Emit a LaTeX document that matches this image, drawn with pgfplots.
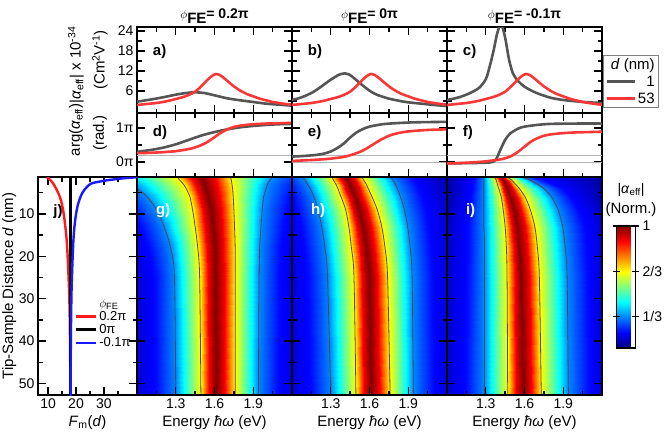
\documentclass[border=0pt]{standalone}
\usepackage{pgfplots}
\pgfplotsset{compat=1.18}
\usepackage{fontspec}
\setmainfont{Liberation Sans}
\definecolor{cgray}{RGB}{85,85,85}
\definecolor{cred}{RGB}{250,55,55}
\definecolor{jred}{RGB}{255,25,25}
\definecolor{jblue}{RGB}{25,25,255}
\definecolor{cont}{RGB}{75,75,75}
\newcommand{\fs}[1]{\fontsize{#1}{#1}\selectfont}
\newcommand{\phititle}[1]{{\fs{13}$\phi$}\raisebox{-5pt}{\bfseries\fs{15}FE}{\bfseries\fs{14}= #1}}
\pgfplotsset{
 base/.style={scale only axis, anchor=south west, xmin=1, xmax=2.2,
   axis line style={line width=1.3pt}, every tick/.append style={black, line width=1.3pt},
   major tick length=8pt, minor tick length=4.5pt, tick align=inside,
   xtick={1.3,1.6,1.9}, minor xtick={1.15,1.45,1.75,2.05}, xticklabels={},
   ticklabel style={font=\fs{14}}, /pgf/number format/assume math mode=true},
 amp/.style={base, width=155pt, height=86pt, ymin=-0.6, ymax=25.2, ytick={6,12,18,24}, minor ytick={3,9,15,21}, yticklabels={}},
 phs/.style={base, width=155pt, height=64pt, ymin=-0.44, ymax=1.44, ytick={0,1}, minor ytick={0.5}, yticklabels={}},
 heat/.style={base, width=155pt, height=218pt, view={0}{90}, ymin=1.3, ymax=52.7, y dir=reverse,
   ytick={10,20,30,40,50}, minor ytick={5,15,25,35,45}, yticklabels={}, xticklabels={1.3,1.6,1.9},
   xtick pos=left, zmin=0, zmax=2, ztick=\empty, colormap/jet, point meta min=0.1, point meta max=1,
   axis on top, xlabel={Energy \textit{ħω} (eV)}, label style={font=\fs{15}}},
 cg/.style={cgray, line width=2.6pt, smooth},
 cr/.style={cred, line width=2.6pt, smooth},
 ct/.style={cont, line width=0.8pt, smooth},
 hl/.style={gray!60, line width=0.7pt},
}
\begin{document}
\begin{tikzpicture}
\useasboundingbox (0,0) rectangle (666pt,432pt);

% ---------- titles ----------
\node at (214.5pt,416pt) {\phititle{0.2π}};
\node at (369.5pt,416pt) {\phititle{0π}};
\node at (524.5pt,416pt) {\phititle{-0.1π}};

\node[rotate=90, font=\fs{15}] at (76pt,367pt) {|\textit{α}\textsubscript{eff}| x 10\textsuperscript{-34}};
\node[rotate=90, font=\fs{15}] at (100pt,372pt) {(Cm\textsuperscript{2}V\textsuperscript{-1})};
\node[rotate=90, font=\fs{15}] at (76pt,302pt) {arg(\textit{α}\textsubscript{eff})};
\node[rotate=90, font=\fs{15}] at (100pt,299pt) {(rad.)};
\node[font=\fs{14}] at (631pt,242pt) {|\textit{α}\textsubscript{eff}|};
\node[font=\fs{15}] at (631pt,222pt) {(Norm.)};

% ---------- a ----------
\begin{axis}[amp, at={(137pt,319pt)}, yticklabels={6,12,18,24}]
\addplot[cg] coordinates {(1.00,2.8) (1.10,3.4) (1.20,4.1) (1.30,4.9) (1.38,5.4) (1.45,5.6) (1.52,5.4) (1.60,4.7) (1.70,3.8) (1.80,3.2) (1.90,2.7) (2.00,2.2) (2.10,1.9) (2.20,1.6)};
\addplot[cr] coordinates {(1.00,1.8) (1.05,2.0) (1.10,2.2) (1.15,2.4) (1.20,2.7) (1.25,3.1) (1.30,3.6) (1.35,4.1) (1.40,4.8) (1.45,5.8) (1.50,7.5) (1.55,9.5) (1.58,10.5) (1.61,11.1) (1.64,10.8) (1.67,10.0) (1.70,9.0) (1.75,7.4) (1.80,6.1) (1.85,5.1) (1.90,4.4) (1.95,3.7) (2.00,3.2) (2.05,2.7) (2.10,2.4) (2.15,2.1) (2.20,1.9)};
\node[font=\bfseries\fs{15}, anchor=west] at (axis description cs:0.08,0.71) {a)};
\end{axis}
% ---------- b ----------
\begin{axis}[amp, at={(292pt,319pt)}]
\addplot[cg] coordinates {(1.00,3.3) (1.05,3.8) (1.10,4.5) (1.15,5.4) (1.20,6.6) (1.25,8.0) (1.30,9.4) (1.35,10.6) (1.38,11.1) (1.41,11.3) (1.44,11.0) (1.47,10.2) (1.50,9.2) (1.55,7.6) (1.60,6.1) (1.65,5.0) (1.70,4.3) (1.75,3.7) (1.80,3.3) (1.85,2.9) (1.90,2.6) (2.00,2.2) (2.10,1.8) (2.20,1.5)};
\addplot[cr] coordinates {(1.00,1.8) (1.05,2.0) (1.10,2.2) (1.15,2.4) (1.20,2.7) (1.25,3.1) (1.30,3.6) (1.35,4.1) (1.40,4.8) (1.45,5.8) (1.50,7.5) (1.55,9.5) (1.58,10.5) (1.61,11.1) (1.64,10.8) (1.67,10.0) (1.70,9.0) (1.75,7.4) (1.80,6.1) (1.85,5.1) (1.90,4.4) (1.95,3.7) (2.00,3.2) (2.05,2.7) (2.10,2.4) (2.15,2.1) (2.20,1.9)};
\node[font=\bfseries\fs{15}, anchor=west] at (axis description cs:0.08,0.71) {b)};
\end{axis}
% ---------- c ----------
\begin{axis}[amp, at={(447pt,319pt)},
  legend style={at={(1.006,0.674)}, anchor=north west, draw=gray, line width=0.8pt, fill=white,
    font=\fs{15}, inner xsep=2pt, inner ysep=1pt, row sep=1pt},
  legend cell align=right,
  legend image code/.code={\draw[#1] (0pt,0pt) -- (28pt,0pt);}]
\addlegendimage{empty legend}\addlegendentry{\hspace{-34pt}\textit{d} (nm)}
\addplot[cg] coordinates {(1.00,3.3) (1.05,3.7) (1.10,4.2) (1.15,4.9) (1.20,5.8) (1.25,7.0) (1.30,9.5) (1.33,13.3) (1.36,18) (1.39,23.5) (1.42,26) (1.45,22) (1.48,15.5) (1.51,11.3) (1.55,9.0) (1.60,7.3) (1.65,6.2) (1.70,5.3) (1.80,4.0) (1.90,3.3) (2.00,2.9) (2.10,2.6) (2.20,2.4)};
\addlegendentry{1}
\addplot[cr] coordinates {(1.00,1.8) (1.05,2.0) (1.10,2.2) (1.15,2.4) (1.20,2.7) (1.25,3.1) (1.30,3.6) (1.35,4.1) (1.40,4.8) (1.45,5.8) (1.50,7.5) (1.55,9.5) (1.58,10.5) (1.61,11.1) (1.64,10.8) (1.67,10.0) (1.70,9.0) (1.75,7.4) (1.80,6.1) (1.85,5.1) (1.90,4.4) (1.95,3.7) (2.00,3.2) (2.05,2.7) (2.10,2.4) (2.15,2.1) (2.20,1.9)};
\addlegendentry{53}
\node[font=\bfseries\fs{15}, anchor=west] at (axis description cs:0.08,0.71) {c)};
\end{axis}

% ---------- d ----------
\begin{axis}[phs, at={(137pt,255pt)}, yticklabels={0π,1π}]
\addplot[hl] coordinates {(1,0.2) (2.2,0.2)};
\addplot[cg] coordinates {(1.0,0.30) (1.1,0.35) (1.2,0.42) (1.3,0.52) (1.4,0.65) (1.5,0.78) (1.6,0.88) (1.7,0.96) (1.8,1.02) (1.9,1.06) (2.0,1.09) (2.1,1.11) (2.2,1.12)};
\addplot[cr] coordinates {(1.00,0.26) (1.10,0.27) (1.20,0.29) (1.30,0.32) (1.40,0.38) (1.45,0.43) (1.50,0.50) (1.55,0.60) (1.60,0.73) (1.65,0.86) (1.70,0.96) (1.75,1.03) (1.80,1.07) (1.90,1.11) (2.00,1.13) (2.10,1.14) (2.20,1.15)};
\node[font=\bfseries\fs{15}, anchor=west] at (axis description cs:0.08,0.70) {d)};
\end{axis}
% ---------- e ----------
\begin{axis}[phs, at={(292pt,255pt)}]
\addplot[hl] coordinates {(1,0.19) (2.2,0.19)};
\addplot[hl] coordinates {(1,0) (2.2,0)};
\addplot[cg] coordinates {(1.00,0.16) (1.10,0.18) (1.19,0.21) (1.25,0.25) (1.30,0.31) (1.35,0.41) (1.40,0.54) (1.45,0.72) (1.50,0.87) (1.55,0.97) (1.60,1.04) (1.70,1.11) (1.80,1.14) (1.90,1.16) (2.00,1.17) (2.20,1.18)};
\addplot[cr] coordinates {(1.00,0.03) (1.10,0.05) (1.20,0.07) (1.30,0.10) (1.40,0.15) (1.45,0.20) (1.50,0.26) (1.55,0.34) (1.60,0.45) (1.65,0.57) (1.70,0.68) (1.75,0.77) (1.80,0.83) (1.85,0.87) (1.90,0.90) (2.00,0.93) (2.10,0.95) (2.20,0.96)};
\node[font=\bfseries\fs{15}, anchor=west] at (axis description cs:0.08,0.70) {e)};
\end{axis}
% ---------- f ----------
\begin{axis}[phs, at={(447pt,255pt)}]
\addplot[hl] coordinates {(1,0.19) (2.2,0.19)};
\addplot[hl] coordinates {(1,0) (2.2,0)};
\addplot[cg] coordinates {(1.00,-0.04) (1.20,-0.03) (1.30,-0.02) (1.35,0.0) (1.38,0.08) (1.41,0.33) (1.45,0.65) (1.49,0.84) (1.55,0.98) (1.60,1.04) (1.70,1.09) (1.80,1.12) (2.00,1.13) (2.20,1.13)};
\addplot[cr] coordinates {(1.00,-0.04) (1.10,-0.03) (1.20,-0.01) (1.30,0.02) (1.40,0.07) (1.45,0.11) (1.50,0.18) (1.55,0.30) (1.60,0.45) (1.65,0.60) (1.70,0.70) (1.75,0.77) (1.80,0.81) (1.90,0.85) (2.00,0.87) (2.10,0.88) (2.20,0.89)};
\node[font=\bfseries\fs{15}, anchor=west] at (axis description cs:0.08,0.70) {f)};
\end{axis}

% ---------- g ----------
\begin{axis}[heat, at={(137pt,37pt)}]
\addplot3[surf, shader=interp, mesh/rows=10, mesh/cols=11] coordinates {
(0.30,1.3,0.12) (0.50,1.3,0.22) (0.85,1.3,0.333) (1.31,1.3,0.667) (1.417,1.3,0.9) (1.50,1.3,1) (1.595,1.3,0.9) (1.72,1.3,0.667) (2.05,1.3,0.333) (2.30,1.3,0.22) (2.83,1.3,0.12)
(0.30,2,0.12) (0.605,2,0.22) (0.90,2,0.333) (1.33,2,0.667) (1.432,2,0.9) (1.51,2,1) (1.605,2,0.9) (1.73,2,0.667) (2.03,2,0.333) (2.267,2,0.22) (2.768,2,0.12)
(0.30,3,0.12) (0.689,3,0.22) (0.96,3,0.333) (1.36,3,0.667) (1.450,3,0.9) (1.52,3,1) (1.612,3,0.9) (1.735,3,0.667) (2.01,3,0.333) (2.233,3,0.22) (2.706,3,0.12)
(0.30,4,0.12) (0.743,4,0.22) (1.00,4,0.333) (1.38,4,0.667) (1.465,4,0.9) (1.53,4,1) (1.620,4,0.9) (1.74,4,0.667) (2.00,4,0.333) (2.214,4,0.22) (2.667,4,0.12)
(0.337,6,0.12) (0.853,6,0.22) (1.08,6,0.333) (1.41,6,0.667) (1.489,6,0.9) (1.55,6,1) (1.634,6,0.9) (1.745,6,0.667) (1.98,6,0.333) (2.176,6,0.22) (2.591,6,0.12)
(0.486,9,0.12) (0.947,9,0.22) (1.15,9,0.333) (1.43,9,0.667) (1.509,9,0.9) (1.57,9,1) (1.647,9,0.9) (1.75,9,0.667) (1.97,9,0.333) (2.152,9,0.22) (2.538,9,0.12)
(0.617,13,0.12) (1.028,13,0.22) (1.21,13,0.333) (1.45,13,0.667) (1.526,13,0.9) (1.585,13,1) (1.658,13,0.9) (1.755,13,0.667) (1.96,13,0.333) (2.131,13,0.22) (2.493,13,0.12)
(0.723,18,0.12) (1.095,18,0.22) (1.26,18,0.333) (1.47,18,0.667) (1.543,18,0.9) (1.60,18,1) (1.669,18,0.9) (1.76,18,0.667) (1.95,18,0.333) (2.109,18,0.22) (2.447,18,0.12)
(0.792,25,0.12) (1.138,25,0.22) (1.29,25,0.333) (1.485,25,0.667) (1.553,25,0.9) (1.605,25,1) (1.672,25,0.9) (1.76,25,0.667) (1.945,25,0.333) (2.100,25,0.22) (2.428,25,0.12)
(0.81,53,0.12) (1.15,53,0.22) (1.30,53,0.333) (1.495,53,0.667) (1.560,53,0.9) (1.61,53,1) (1.675,53,0.9) (1.76,53,0.667) (1.94,53,0.333) (2.090,53,0.22) (2.409,53,0.12)
};
\addplot3[ct] coordinates {(0.85,1.3,1) (0.90,2,1) (0.96,3,1) (1.00,4,1) (1.08,6,1) (1.15,9,1) (1.21,13,1) (1.26,18,1) (1.29,25,1) (1.30,53,1)};
\addplot3[ct] coordinates {(1.31,1.3,1) (1.33,2,1) (1.36,3,1) (1.38,4,1) (1.41,6,1) (1.43,9,1) (1.45,13,1) (1.47,18,1) (1.485,25,1) (1.495,53,1)};
\addplot3[ct] coordinates {(1.72,1.3,1) (1.73,2,1) (1.735,3,1) (1.74,4,1) (1.745,6,1) (1.75,9,1) (1.755,13,1) (1.76,18,1) (1.76,25,1) (1.76,53,1)};
\addplot3[ct] coordinates {(2.05,1.3,1) (2.03,2,1) (2.01,3,1) (2.00,4,1) (1.98,6,1) (1.97,9,1) (1.96,13,1) (1.95,18,1) (1.945,25,1) (1.94,53,1)};
\node[font=\bfseries\fs{15}, text=white, anchor=west] at (axis description cs:0.10,0.845) {g)};
\end{axis}

% ---------- h ----------
\begin{axis}[heat, at={(292pt,37pt)}]
\addplot3[surf, shader=interp, mesh/rows=10, mesh/cols=11] coordinates {
(0.543,1.3,0.12) (0.915,1.3,0.22) (1.08,1.3,0.333) (1.31,1.3,0.667) (1.372,1.3,0.9) (1.42,1.3,1) (1.472,1.3,0.9) (1.54,1.3,0.667) (1.76,1.3,0.333) (1.915,1.3,0.22) (2.25,1.3,0.12)
(0.579,2,0.12) (0.940,2,0.22) (1.10,2,0.333) (1.32,2,0.667) (1.382,2,0.9) (1.43,2,1) (1.484,2,0.9) (1.555,2,0.667) (1.78,2,0.333) (1.939,2,0.22) (2.277,2,0.12)
(0.606,3,0.12) (0.963,3,0.22) (1.12,3,0.333) (1.34,3,0.667) (1.399,3,0.9) (1.445,3,1) (1.501,3,0.9) (1.575,3,0.667) (1.80,3,0.333) (1.962,3,0.22) (2.304,3,0.12)
(0.634,4,0.12) (0.985,4,0.22) (1.14,4,0.333) (1.355,4,0.667) (1.414,4,0.9) (1.46,4,1) (1.516,4,0.9) (1.59,4,0.667) (1.815,4,0.333) (1.977,4,0.22) (2.319,4,0.12)
(0.672,6,0.12) (1.018,6,0.22) (1.17,6,0.333) (1.38,6,0.667) (1.439,6,0.9) (1.485,6,1) (1.543,6,0.9) (1.62,6,0.667) (1.84,6,0.333) (2.002,6,0.22) (2.344,6,0.12)
(0.694,9,0.12) (1.045,9,0.22) (1.20,9,0.333) (1.415,9,0.667) (1.474,9,0.9) (1.52,9,1) (1.580,9,0.9) (1.66,9,0.667) (1.87,9,0.333) (2.029,9,0.22) (2.367,9,0.12)
(0.724,13,0.12) (1.075,13,0.22) (1.23,13,0.333) (1.44,13,0.667) (1.502,13,0.9) (1.55,13,1) (1.612,13,0.9) (1.695,13,0.667) (1.895,13,0.333) (2.052,13,0.22) (2.385,13,0.12)
(0.749,18,0.12) (1.100,18,0.22) (1.255,18,0.333) (1.46,18,0.667) (1.525,18,0.9) (1.575,18,1) (1.637,18,0.9) (1.72,18,0.667) (1.915,18,0.333) (2.070,18,0.22) (2.398,18,0.12)
(0.769,25,0.12) (1.120,25,0.22) (1.275,25,0.333) (1.48,25,0.667) (1.545,25,0.9) (1.595,25,1) (1.657,25,0.9) (1.74,25,0.667) (1.93,25,0.333) (2.082,25,0.22) (2.406,25,0.12)
(0.81,53,0.12) (1.15,53,0.22) (1.30,53,0.333) (1.495,53,0.667) (1.560,53,0.9) (1.61,53,1) (1.675,53,0.9) (1.76,53,0.667) (1.94,53,0.333) (2.090,53,0.22) (2.409,53,0.12)
};
\addplot3[ct] coordinates {(1.08,1.3,1) (1.10,2,1) (1.12,3,1) (1.14,4,1) (1.17,6,1) (1.20,9,1) (1.23,13,1) (1.255,18,1) (1.275,25,1) (1.30,53,1)};
\addplot3[ct] coordinates {(1.31,1.3,1) (1.32,2,1) (1.34,3,1) (1.355,4,1) (1.38,6,1) (1.415,9,1) (1.44,13,1) (1.46,18,1) (1.48,25,1) (1.495,53,1)};
\addplot3[ct] coordinates {(1.54,1.3,1) (1.555,2,1) (1.575,3,1) (1.59,4,1) (1.62,6,1) (1.66,9,1) (1.695,13,1) (1.72,18,1) (1.74,25,1) (1.76,53,1)};
\addplot3[ct] coordinates {(1.76,1.3,1) (1.78,2,1) (1.80,3,1) (1.815,4,1) (1.84,6,1) (1.87,9,1) (1.895,13,1) (1.915,18,1) (1.93,25,1) (1.94,53,1)};
\node[font=\bfseries\fs{15}, text=white, anchor=west] at (axis description cs:0.10,0.845) {h)};
\end{axis}

% ---------- i ----------
\begin{axis}[heat, at={(447pt,37pt)}, colorbar,
  colorbar style={at={(parent axis.south east)}, anchor=south west, xshift=6pt, yshift=47pt,
    width=19pt, height=122pt, scale only axis, ytick={0.3333,0.6667,1}, yticklabels={1/3,2/3,1},
    yticklabel style={font=\fs{14}}, axis line style={line width=1.2pt}, tick align=center,
    major tick length=7pt, every tick/.append style={black, line width=1.2pt}}]
\addplot3[surf, shader=interp, mesh/rows=10, mesh/cols=11] coordinates {
(0.95,1.3,0.12) (1.220,1.3,0.22) (1.285,1.3,0.333) (1.365,1.3,0.667) (1.396,1.3,0.9) (1.42,1.3,1) (1.439,1.3,0.9) (1.465,1.3,0.667) (1.58,1.3,0.333) (1.653,1.3,0.22) (2.25,1.3,0.12)
(0.95,2,0.12) (1.212,2,0.22) (1.285,2,0.333) (1.38,2,0.667) (1.411,2,0.9) (1.435,2,1) (1.463,2,0.9) (1.50,2,0.667) (1.64,2,0.333) (1.733,2,0.22) (2.25,2,0.12)
(0.95,3,0.12) (1.205,3,0.22) (1.285,3,0.333) (1.39,3,0.667) (1.424,3,0.9) (1.45,3,1) (1.484,3,0.9) (1.53,3,0.667) (1.70,3,0.333) (1.814,3,0.22) (2.25,3,0.12)
(0.95,4,0.12) (1.198,4,0.22) (1.285,4,0.333) (1.40,4,0.667) (1.437,4,0.9) (1.465,4,1) (1.506,4,0.9) (1.56,4,0.667) (1.75,4,0.333) (1.880,4,0.22) (2.25,4,0.12)
(0.95,6,0.12) (1.186,6,0.22) (1.285,6,0.333) (1.42,6,0.667) (1.460,6,0.9) (1.49,6,1) (1.539,6,0.9) (1.605,6,0.667) (1.81,6,0.333) (1.956,6,0.22) (2.264,6,0.12)
(0.922,9,0.12) (1.174,9,0.22) (1.285,9,0.333) (1.435,9,0.667) (1.480,9,0.9) (1.515,9,1) (1.571,9,0.9) (1.645,9,0.667) (1.86,9,0.333) (2.017,9,0.22) (2.350,9,0.12)
(0.882,13,0.12) (1.162,13,0.22) (1.285,13,0.333) (1.45,13,0.667) (1.501,13,0.9) (1.54,13,1) (1.600,13,0.9) (1.68,13,0.667) (1.895,13,0.333) (2.057,13,0.22) (2.399,13,0.12)
(0.863,18,0.12) (1.159,18,0.22) (1.29,18,0.333) (1.46,18,0.667) (1.517,18,0.9) (1.56,18,1) (1.620,18,0.9) (1.70,18,0.667) (1.915,18,0.333) (2.077,18,0.22) (2.419,18,0.12)
(0.840,25,0.12) (1.152,25,0.22) (1.29,25,0.333) (1.465,25,0.667) (1.527,25,0.9) (1.575,25,1) (1.635,25,0.9) (1.715,25,0.667) (1.93,25,0.333) (2.092,25,0.22) (2.434,25,0.12)
(0.816,53,0.12) (1.145,53,0.22) (1.29,53,0.333) (1.47,53,0.667) (1.538,53,0.9) (1.59,53,1) (1.650,53,0.9) (1.73,53,0.667) (1.94,53,0.333) (2.099,53,0.22) (2.437,53,0.12)
};
\addplot3[ct] coordinates {(1.285,1.3,1) (1.285,4,1) (1.285,13,1) (1.29,18,1) (1.29,53,1)};
\addplot3[ct] coordinates {(1.365,1.3,1) (1.38,2,1) (1.39,3,1) (1.40,4,1) (1.42,6,1) (1.435,9,1) (1.45,13,1) (1.46,18,1) (1.465,25,1) (1.47,53,1)};
\addplot3[ct] coordinates {(1.465,1.3,1) (1.50,2,1) (1.53,3,1) (1.56,4,1) (1.605,6,1) (1.645,9,1) (1.68,13,1) (1.70,18,1) (1.715,25,1) (1.73,53,1)};
\addplot3[ct] coordinates {(1.58,1.3,1) (1.64,2,1) (1.70,3,1) (1.75,4,1) (1.81,6,1) (1.86,9,1) (1.895,13,1) (1.915,18,1) (1.93,25,1) (1.94,53,1)};
\node[font=\bfseries\fs{15}, text=white, anchor=west] at (axis description cs:0.10,0.845) {i)};
\end{axis}

% ---------- j ----------
\begin{axis}[scale only axis, anchor=south west, at={(38pt,37pt)}, width=99pt, height=218pt,
 xmin=6.4, xmax=41.8, ymin=1.3, ymax=52.7, y dir=reverse,
 axis line style={line width=1.3pt}, every tick/.append style={black, line width=1.3pt},
 major tick length=8pt, minor tick length=4.5pt, tick align=inside,
 xtick={10,20,30}, minor xtick={15,25,35}, ytick={10,20,30,40,50}, minor ytick={5,15,25,35,45},
 ticklabel style={font=\fs{14}}, /pgf/number format/assume math mode=true,
 xlabel={\textit{F}\textsubscript{m}(\textit{d})}, ylabel={Tip-Sample Distance \textit{d} (nm)},
 label style={font=\fs{15}},
 ylabel style={at={(axis description cs:-0.29,0.5)}, anchor=center},
 legend style={at={(0.34,0.46)}, anchor=north west, draw=none, fill=none, font=\fs{13}, row sep=-1.5pt},
 legend cell align=left,
 legend image code/.code={\draw[#1] (0pt,0pt) -- (20pt,0pt);}]
\addlegendimage{empty legend}\addlegendentry{$\phi_{\mathrm{FE}}$}
\addplot[jred, line width=2.4pt, smooth] coordinates {(9.6,1.3) (10.8,2) (12.0,3) (13.6,5) (14.7,7) (15.6,10) (16.5,15) (17.0,20) (17.6,30) (17.85,40) (18.0,53)};
\addlegendentry{0.2π}
\addplot[black, line width=2.4pt] coordinates {(18,1.3) (18,53)};
\addlegendentry{0π}
\addplot[jblue, line width=2.4pt, smooth] coordinates {(43,1.3) (37,1.6) (32,2) (28.3,2.4) (25,3) (22.3,5) (20.6,8) (19.6,12) (19.0,17) (18.4,28) (18.15,40) (18.05,53)};
\addlegendentry{-0.1π}
\node[font=\bfseries\fs{15}, anchor=west] at (axis description cs:0.12,0.84) {j)};
\end{axis}
\end{tikzpicture}
\end{document}
